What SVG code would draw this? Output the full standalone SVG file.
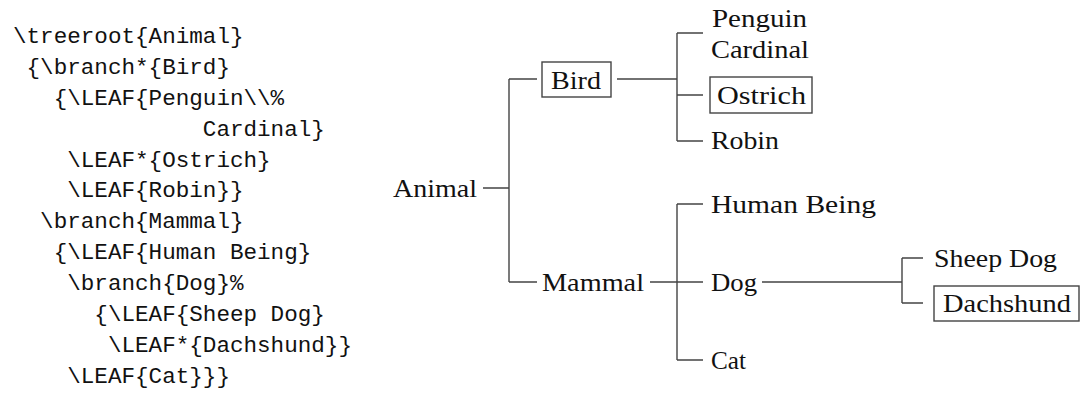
<svg xmlns="http://www.w3.org/2000/svg" width="1081" height="394" viewBox="0 0 1081 394">
<style>
.code{font-family:"Liberation Mono","DejaVu Sans Mono",monospace;font-size:22.6px;fill:#111;white-space:pre}
.lbl{font-family:"Liberation Serif","Times New Roman",serif;font-size:26px;fill:#111}
.box{fill:none;stroke:#444;stroke-width:1.4}
.conn path{fill:none;stroke:#444;stroke-width:1.4}
</style>
<rect width="1081" height="394" fill="#fff"/>
<g id="code">
<text class="code" xml:space="preserve" x="13" y="43">\treeroot{Animal}</text>
<text class="code" xml:space="preserve" x="13" y="74"> {\branch*{Bird}</text>
<text class="code" xml:space="preserve" x="13" y="105">   {\LEAF{Penguin\\%</text>
<text class="code" xml:space="preserve" x="13" y="136">              Cardinal}</text>
<text class="code" xml:space="preserve" x="13" y="167">    \LEAF*{Ostrich}</text>
<text class="code" xml:space="preserve" x="13" y="197">    \LEAF{Robin}}</text>
<text class="code" xml:space="preserve" x="13" y="228">  \branch{Mammal}</text>
<text class="code" xml:space="preserve" x="13" y="259">   {\LEAF{Human Being}</text>
<text class="code" xml:space="preserve" x="13" y="290">    \branch{Dog}%</text>
<text class="code" xml:space="preserve" x="13" y="321">      {\LEAF{Sheep Dog}</text>
<text class="code" xml:space="preserve" x="13" y="352">       \LEAF*{Dachshund}}</text>
<text class="code" xml:space="preserve" x="13" y="383">    \LEAF{Cat}}}</text>
</g>
<g class="conn" id="connectors">
<path d="M483,188 H509 M509,79 V282 M509,79 H537 M509,282 H537"/>
<path d="M617,79 H677 M677,33 V141 M677,33 H703 M677,95 H703 M677,141 H703"/>
<path d="M650,282 H703 M677,204 V360 M677,204 H703 M677,360 H703"/>
<path d="M762,282 H902 M902,258 V303 M902,258 H923 M902,303 H923"/>
</g>
<g id="animal"><text class="lbl" x="393" y="197" textLength="84" lengthAdjust="spacingAndGlyphs">Animal</text></g>
<g id="bird"><rect class="box" x="542" y="62" width="69" height="35"/><text class="lbl" x="551" y="89" textLength="50" lengthAdjust="spacingAndGlyphs">Bird</text></g>
<g id="penguin"><text class="lbl" x="712" y="27" textLength="95" lengthAdjust="spacingAndGlyphs">Penguin</text><text class="lbl" x="711" y="58" textLength="98" lengthAdjust="spacingAndGlyphs">Cardinal</text></g>
<g id="ostrich"><rect class="box" x="710" y="77" width="102" height="36"/><text class="lbl" x="717" y="104" textLength="89" lengthAdjust="spacingAndGlyphs">Ostrich</text></g>
<g id="robin"><text class="lbl" x="711" y="149" textLength="68" lengthAdjust="spacingAndGlyphs">Robin</text></g>
<g id="mammal"><text class="lbl" x="542" y="291" textLength="102" lengthAdjust="spacingAndGlyphs">Mammal</text></g>
<g id="human"><text class="lbl" x="711" y="213" textLength="165" lengthAdjust="spacingAndGlyphs">Human Being</text></g>
<g id="dog"><text class="lbl" x="711" y="291" textLength="46" lengthAdjust="spacingAndGlyphs">Dog</text></g>
<g id="cat"><text class="lbl" x="711" y="369" textLength="35" lengthAdjust="spacingAndGlyphs">Cat</text></g>
<g id="sheepdog"><text class="lbl" x="934" y="267" textLength="123" lengthAdjust="spacingAndGlyphs">Sheep Dog</text></g>
<g id="dachshund"><rect class="box" x="934" y="286" width="145" height="35"/><text class="lbl" x="943" y="312" textLength="128" lengthAdjust="spacingAndGlyphs">Dachshund</text></g>
</svg>
